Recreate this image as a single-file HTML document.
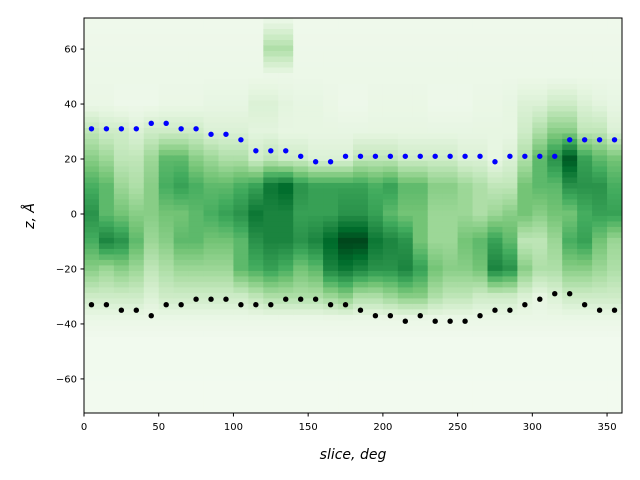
<!DOCTYPE html>
<html><head><meta charset="utf-8"><style>body{margin:0;background:#fff}svg{display:block}text{font-family:"DejaVu Sans","Liberation Sans",sans-serif}</style></head>
<body><svg id="s" width="640" height="480" xmlns="http://www.w3.org/2000/svg"></svg>
<script>
const S=document.getElementById('s');const X0=84,X1=622,Y0=18,Y1=413;
const zmin=-72.4,zmax=71.3;
const px=d=>X0+d*(X1-X0)/360, py=z=>Y0+(zmax-z)*(Y1-Y0)/(zmax-zmin);
const cm=[[247,252,245],[229,245,224],[199,233,192],[161,217,155],[116,196,118],[65,171,93],[35,139,69],[0,109,44],[0,68,27]];
function col(v){let t=Math.max(0,Math.min(1,v/9))*8;let i=Math.min(7,Math.floor(t)),f=t-i;const a=cm[i],b=cm[i+1];return `rgb(${a.map((x,k)=>Math.round(x+(b[k]-x)*f)).join(',')})`;}
// levels 30,20,10,0,-10,-20,-30
const P=[[2.5,4,5.5,6.5,5.5,4,2],[2,3.5,5,5,7,3.5,2],[2,2.5,3.5,4.5,6.5,4,2],[1.5,2.5,3,4,5,3.5,2],[2,3.5,4,4,3.5,2.5,1.5],[2,5,5.5,4.5,4,3,2],[2,5,6,4.5,5,3.5,2],[2,4,5.5,5,5,3.5,2],[1.5,3.5,5,5.5,4.5,3.5,2],[1.5,3,5,6,4.5,3.5,2],[1.5,3,5.5,6.5,5,5,2],[1.2,2,6,7.5,6.5,5.5,2.5],[1.2,2.5,7.5,7,7,6,3],[1,2,8,7,7,5.5,3],[1,2,6.5,6,6.5,4.5,3],[1,1.5,6,6,7,5,3],[1,1.5,6,6,8,7,3.5],[1,1.5,6,6.5,9,7.5,4],[1,2.5,6,6.5,9,7,3],[1,2.5,5.5,6,7.5,6.5,3],[1,2.5,6,5,7,6.5,3.5],[1,2,5,4.5,6.5,7,4],[1,2,5,4.5,4.5,6,4],[1,2,4,3.5,3.5,4.5,3],[1,2,4,3.5,3.5,4,2.5],[1,1.5,3.5,3.5,4.5,4,2.5],[1,1.5,3,3,5,4.5,2],[1,1,2.5,3.5,6,7,2],[1,1.5,2.5,4,5,6.5,2],[2,3,4.5,4.5,2.5,4,1.5],[3,5,5,4,2.5,3,1],[4,6.5,5,4.5,3.5,3,1.5],[4,8.5,6.5,4.5,5.5,4,2],[2.5,6,6.5,5.5,6,4,2],[2.5,5,6.5,6,4.5,3.5,2],[1.5,4.5,5.5,6,3.5,3,2]];
const top40=[.8,.8,.6,.6,.6,.8,.8,.8,1,1,1,1.5,1.5,1.2,1,1,.8,.6,.6,.8,.8,.8,.8,.6,.6,.6,.8,.8,1,1.5,1.5,2,2,1.5,1.2,1];
let h='';
for(let c=0;c<36;c++){const p=P[c];const L=[[72,.5],[60,c==12||c==13?3:.6],[50,.7],[40,top40[c]],[30,p[0]],[20,p[1]],[10,p[2]],[0,p[3]],[-10,p[4]],[-20,p[5]],[-30,p[6]],[-38,.8],[-45,.4],[-73,.3]];
for(let z=zmax;z>zmin;z-=2){const zc=z-1;let v=.3;for(let k=0;k<L.length-1;k++){if(zc<=L[k][0]&&zc>=L[k+1][0]){const f=(L[k][0]-zc)/(L[k][0]-L[k+1][0]);v=L[k][1]+(L[k+1][1]-L[k][1])*f;break;}}
const y=py(z),y2=py(Math.max(z-2,zmin));h+=`<rect x="${px(c*10).toFixed(2)}" y="${y.toFixed(2)}" width="${(px(10)-X0+.5).toFixed(2)}" height="${(y2-y+.5).toFixed(2)}" fill="${col(v)}"/>`;}}
const B=[31,31,31,31,33,33,31,31,29,29,27,23,23,23,21,19,19,21,21,21,21,21,21,21,21,21,21,19,21,21,21,21,27,27,27,27];
const K=[-33,-33,-35,-35,-37,-33,-33,-31,-31,-31,-33,-33,-33,-31,-31,-31,-33,-33,-35,-37,-37,-39,-37,-39,-39,-39,-37,-35,-35,-33,-31,-29,-29,-33,-35,-35];
for(let i=0;i<36;i++){h+=`<circle cx="${px(5+10*i)}" cy="${py(B[i])}" r="2.7" fill="#0000ff"/><circle cx="${px(5+10*i)}" cy="${py(K[i])}" r="2.7" fill="#000"/>`;}
h+=`<rect x="${X0}" y="${Y0}" width="${X1-X0}" height="${Y1-Y0}" fill="none" stroke="#000" stroke-width="1"/>`;
for(let d=0;d<=350;d+=50){const x=px(d);h+=`<line x1="${x}" y1="${Y1}" x2="${x}" y2="${Y1+3.5}" stroke="#000"/><text x="${x}" y="${Y1+17}" font-size="10" text-anchor="middle">${d}</text>`;}
for(let z=-60;z<=60;z+=20){const y=py(z);h+=`<line x1="${X0-3.5}" y1="${y}" x2="${X0}" y2="${y}" stroke="#000"/><text x="${X0-7}" y="${y+3.5}" font-size="10" text-anchor="end">${z<0?'\u2212'+(-z):z}</text>`;}
h+=`<text x="353" y="459" font-size="14" font-style="italic" text-anchor="middle">slice, deg</text>`;
h+=`<text transform="translate(34,216) rotate(-90)" font-size="14" font-style="italic" text-anchor="middle">z, Å</text>`;
S.innerHTML=h;
</script></body></html>
